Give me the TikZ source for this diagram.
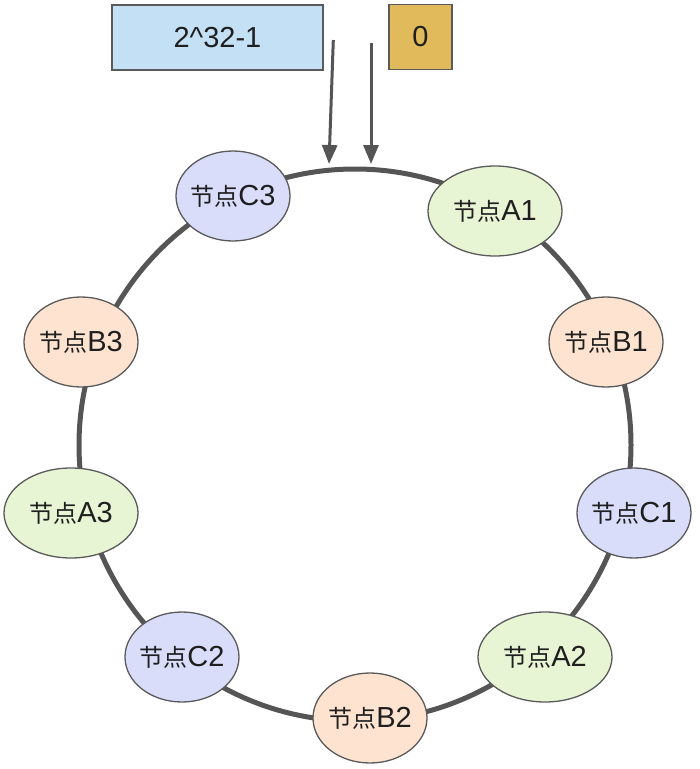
\documentclass[tikz,border=0pt]{standalone}
\usepackage{fontspec}
\setmainfont{Liberation Sans}
\newfontfamily\cjkfont{Noto Sans CJK SC}
\newcommand\zh[1]{{\fontsize{24}{34}\cjkfont #1}}
\usetikzlibrary{shapes.geometric,arrows.meta}
\definecolor{cblue}{HTML}{D9DDFA}
\definecolor{cgreen}{HTML}{E8F5D5}
\definecolor{corange}{HTML}{FDE3D0}
\definecolor{bblue}{HTML}{C4E0F5}
\definecolor{bgold}{HTML}{E1BA5B}
\definecolor{edge}{HTML}{5A5A5A}
\definecolor{ring}{HTML}{555555}
\begin{document}
\begin{tikzpicture}[x=1pt,y=-1pt,
  every node/.style={font=\fontsize{29}{34}\selectfont, text=black!88},
  nodeell/.style={ellipse, draw=edge, line width=1.3pt, inner ysep=0pt, inner xsep=-10pt, minimum height=90pt},
  nodeC/.style={nodeell, fill=cblue, minimum width=114pt},
  nodeB/.style={nodeell, fill=corange, minimum width=114pt},
  nodeA/.style={nodeell, fill=cgreen, minimum width=134pt},
  labelbox/.style={rectangle, draw=edge, line width=1.3pt, inner sep=0pt, minimum height=65pt},
  ptr/.style={draw=ring, line width=3pt, -{Triangle[length=19pt,width=15pt]}}
]
\useasboundingbox (0,0) rectangle (700,769);
\draw[ring, line width=5pt] (355,445) circle[radius=276];
\node[nodeC] (c3) at (233,196) {\zh{节点}C3};
\node[nodeA] (a1) at (495,211) {\zh{节点}A1};
\node[nodeB] (b1) at (606,342) {\zh{节点}B1};
\node[nodeB] (b3) at (81,342) {\zh{节点}B3};
\node[nodeA] (a3) at (71,513) {\zh{节点}A3};
\node[nodeC] (c1) at (634,513) {\zh{节点}C1};
\node[nodeC] (c2) at (182,657) {\zh{节点}C2};
\node[nodeA] (a2) at (545,657) {\zh{节点}A2};
\node[nodeB] (b2) at (370,718) {\zh{节点}B2};
\node[labelbox, fill=bblue, minimum width=211pt] (max) at (217.5,37.5) {2\textasciicircum 32-1};
\node[labelbox, fill=bgold, minimum width=63pt] (zero) at (420.5,37) {0};
\coordinate (s1) at (333.3,40);
\coordinate (t1) at (329,164);
\coordinate (s2) at (371,43);
\coordinate (t2) at (371,164);
\draw[ptr] (s1) -- (t1);
\draw[ptr] (s2) -- (t2);
\end{tikzpicture}
\end{document}
